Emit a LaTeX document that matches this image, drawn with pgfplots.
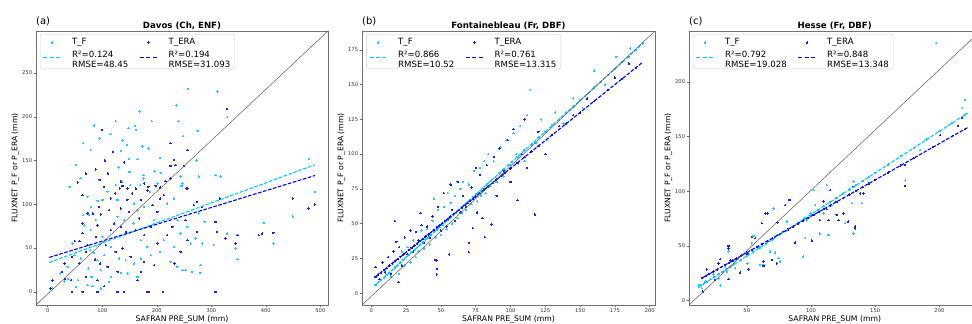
\documentclass[border=0pt]{standalone}
\usepackage{fontspec}
\setmainfont{DejaVu Sans}
\usepackage{pgfplots}
\pgfplotsset{compat=1.18}
\definecolor{cF}{RGB}{40,200,255}
\definecolor{cE}{RGB}{30,30,240}
\definecolor{lF}{RGB}{0,200,255}
\definecolor{lE}{RGB}{0,0,255}
\newcommand{\lgf}{\fontsize{8.6}{10.2}\selectfont}
\newcommand{\two}[2]{{\lgf\begin{tabular}{@{}l@{}}#1\\#2\end{tabular}}}
\tikzset{
  fitF/.style={draw=lF, line width=1.1pt, dash pattern=on 3.6pt off 1.6pt},
  fitE/.style={draw=lE, line width=1.1pt, dash pattern=on 3.6pt off 1.6pt},
  diag/.style={draw=black!65, line width=0.5pt},
}
\pgfplotsset{
  panel/.style={
    scale only axis, height=274pt,
    clip mode=individual,
    axis line style={black!55, line width=0.8pt},
    tick align=outside, tick pos=left,
    major tick length=2.5pt,
    tick style={black!60, line width=0.5pt},
    tick label style={font=\fontsize{5.2}{6}\selectfont, text=black!80, inner sep=1.2pt},
    /pgf/number format/assume math mode=true,
    xlabel={SAFRAN PRE\_SUM (mm)},
    ylabel={FLUXNET P\_F or P\_ERA (mm)},
    label style={font=\fontsize{7.7}{9.2}\selectfont, inner sep=1.5pt},
    every axis title shift=0pt,
    title style={font=\fontsize{8.6}{10}\selectfont\bfseries, inner sep=1.5pt},
    legend columns=2,
    legend cell align=left,
    legend style={anchor=north west, draw=black!18, rounded corners=2pt, fill=white,
      font=\lgf, inner sep=2.5pt,
      /tikz/every even column/.append style={column sep=9pt},
      /tikz/every odd column/.append style={column sep=9pt}},
  },
  ptsF/.style={only marks, mark=*, mark size=0.7pt, mark options={draw=cF, fill=cF, line width=0pt}},
  ptsE/.style={only marks, mark=*, mark size=0.7pt, mark options={draw=cE, fill=cE, line width=0pt}},
  lgF/.style={legend image code/.code={\draw[draw=lF, line width=1.4pt, dash pattern=on 4pt off 2.4pt] (0pt,0pt) -- (17pt,0pt);}},
  lgE/.style={legend image code/.code={\draw[draw=lE, line width=1.4pt, dash pattern=on 4pt off 2.4pt] (0pt,0pt) -- (17pt,0pt);}},
}
\begin{document}
\begin{tikzpicture}
%% ---------------- (a) Davos ----------------
\begin{axis}[panel, at={(36pt,19pt)}, anchor=south west, width=292pt,
  xmin=-21.5, xmax=514, ymin=-15, ymax=298,
  xtick={0,100,200,300,400,500}, ytick={0,50,100,150,200,250},
  title={Davos (Ch, ENF)},
  legend style={at={(rel axis cs:0.014,0.989)}}]
\addplot[ptsF] coordinates {
(257,232)(311,229)(236,213)(329,199.5)(168,206)(190.7,195)(239.5,195)(148,187)(159.6,189.6)(161.5,185)
(275,184)(137,173)(248.6,178)(174,166)(184.6,163.6)(134,161)(148.6,152)(164.5,151.5)(206,153)(273,150)
(150,137)(195.6,138)(207,136)(307.7,133.5)(316.8,131.6)(277,131.6)(175.5,133.5)(176,129.7)(243.7,131.6)(245.5,121)
(479,151.8)(160,284)(52,145)(79,162)(95,175)(60,130)(115,180)(40,120)(65,170)(125,195)(130,142)(85,190)(145,168)
(23,21)(37,15)(49,42)(73,108.7)(67,76)(74,89.6)(91.4,104)(109.7,114.4)(125,122)(136,126)(151,122)(169.4,122)
(187.7,114.4)(201,124)(219,101)(231.5,106.8)(246.8,124)(277,89.6)(287.6,80)(329,66.7)(304.7,53.4)(283.4,55.3)
(271,61)(262.4,55.3)(231.5,51.5)(225.5,34.3)(237.7,28.6)(246.8,24.8)(253,24.8)(265,22.9)(280,30.5)(280,21.7)
(344,49.6)(348,37.4)(396,79)(414,55.3)(449.6,86)(490,114.4)
(65,87.7)(76,87.7)(88.4,82)(78,47.7)(85,44.6)(91.4,36.2)(74.3,26.7)(80.4,17)(97.5,24.8)(115.8,17)(134,21.7)
(146,21)(164.5,17)(55,13.4)(51.8,5.7)(73,7.6)(82,6.5)(97.5,3.8)(112.7,11.4)(128,85.8)(140,82)(157,78)(170.6,59)
(182.8,51.5)(195,82)(115.8,51.5)(131,38)(143,36.2)(158.4,32.4)(170.6,38)(189,42)(206,45.8)(213,59)(237.7,82)
(243.7,66.7)(256,74.4)(100.5,63)(103.6,42)(79,70.6)(61,38)(36.6,28.6)(45.7,55.3)(79,97)(100.5,105)(128,105)
(158.4,101)(176.7,97)(164.5,93.4)(9,4)(30,12)
};
\addlegendentry{T\_F}
\addplot[ptsE] coordinates {
(329,209)(225,170)(256.5,162)(231.5,150.7)(234.5,144.6)(225.4,143.8)(249.7,143.8)(225,129.7)(134,126)(137,121)
(216,126.6)(198,121)(184.6,120)(206,119)(256,118)(70,135)(105,150)(88,140)(120,160)(55,125)(100,185)(110,135)
(95,128)(140,148)
(5,3.8)(9,13)(26,23)(32,15)(44.5,40)(50,58)(58,58)(64,67)(64,110.6)(83,89.6)(94.5,97)(97.5,88.5)(103.6,120)
(112.7,93.4)(123.7,112.5)(132,118)(146,118)(155,112.5)(161.5,118)(176.7,124)(182.8,116)(206,106.8)(213,110.6)
(254.7,118)(268,99)(274,103)(283,97)(315.7,106.8)(307.7,80)(310.8,68.6)(326,61)(274,68.6)(256,59)(243.7,45.8)
(232.8,32.4)(307.7,0)(344,55.3)(348,64.8)(387,64.8)(393,66.7)(414,67.5)(449.6,106.8)(478,95.4)(490,100)
(64,78)(91.4,76)(73,53.4)(70,45.8)(87,37)(96,32.4)(70,17)(91.4,13.4)(109.7,28.6)(128,22.9)(164.5,13.4)(170.6,22.9)
(42.7,13.4)(103.6,6.5)(44.5,0)(64,0)(91.4,0)(128,0)(140,0)(181.6,0)(186,0)(211.5,0)(115.8,70.6)(122,78)(134,74.4)
(143,68.6)(149,91.5)(161.5,70.6)(167.6,84)(176.7,64.8)(189,74.4)(201,91.5)(124.6,45.8)(137,49.6)(152,40)
(176.7,34.3)(195,30.5)(201,55.3)(219,64.8)(228.5,74.4)(253,82)(106.6,53.4)(88.4,63)(58,32.4)(30.5,32.4)
(73,89.6)(115.8,106.8)(146,105)(170.6,105)(192,99)(134,95.4)
};
\addlegendentry{T\_ERA}
\addplot[fitF, lgF] coordinates {(3,33.6)(490,145.2)};
\addlegendentry{\two{R²=0.124}{RMSE=48.45}}
\addplot[fitE, lgE] coordinates {(3,39.4)(490,132.9)};
\addlegendentry{\two{R²=0.194}{RMSE=31.093}}
\addplot[diag, forget plot] coordinates {(-21.5,-15)(514,298)};
\node[anchor=south west, inner sep=0pt, font=\fontsize{10}{12}\selectfont] at (rel axis cs:0,1) [yshift=4.5pt] {(a)};
\end{axis}
%% ---------------- (b) Fontainebleau ----------------
\begin{axis}[panel, at={(362pt,19pt)}, anchor=south west, width=293pt,
  xmin=-6.7, xmax=203.8, ymin=-8.5, ymax=188.5,
  xtick={0,25,50,75,100,125,150,175,200}, ytick={0,25,50,75,100,125,150,175},
  title={Fontainebleau (Fr, DBF)},
  legend style={at={(rel axis cs:0.014,0.989)}}]
\addplot[ptsF] coordinates {
(3,6)(5,8)(7,9.5)(9,11)(11,13)(13,15)(15,16.5)(17,18.5)(19,20)(21,22)(23,24)(25,26)(27,27.5)(29,29.5)(31,31)
(33,33)(35,35)(37,36.5)(39,38.5)(41,40)(43,42)(45,44)(47,45.5)(49,47.5)(51,49)(53,51)(55,53)(57,54.5)(59,56.5)
(61,58)(63,60)(65,62)(67,63.5)(69,65.5)(71,67)(73,69)(75,71)(77,72.5)(80,75.5)(83,78)(86,81)(89,83.5)(92,86)
(95,89)(98,92)(101,94.5)(105,98)(110,103)(115,107)(120,112)(125,116)(130,121)(135,125)(140,130)(145,134)
(150,139)(155,143)(160,148)(165,152)(170,157)(175,161)(180,166)(185,170)(190,175)(195,180)
(10,16)(14,12)(18,24)(20,14)(22,30)(24,20)(26,33)(28,22)(30,38)(32,26)(34,30)(36,45)(38,32)(40,46)(42,35)
(44,52)(45,68)(46,40)(48,60)(50,42)(52,62)(54,46)(55,72)(57,65)(58,50)(60,70)(62,54)(64,75)(65,58)(66,80)
(68,60)(70,78)(72,64)(74,88)(76,66)(78,90)(79,70)(81,95)(82,72)(84,100)(85,77)(88,95)(90,80)(93,105)(95,84)
(97,110)(100,92)(102,115)(104,100)(107,120)(110,95)(112,128)(114,146)(118,108)(122,125)(126,110)(132,130)
(138,122)(145,140)(152,133)(160,160)(168,150)(176,170)(186,176)
};
\addlegendentry{T\_F}
\addplot[ptsE] coordinates {
(3,11.7)(5,13.3)(7,15)(9,16.5)(11,18.1)(13,19.8)(15,21.4)(17,23)(19,24.6)(21,26.2)(23,27.8)(25,29.4)(27,31)
(29,32.6)(31,34.2)(33,35.8)(35,37.4)(37,39)(39,40.7)(41,42.3)(43,43.9)(45,45.5)(47,47.1)(49,48.7)(51,50.3)
(53,51.9)(55,53.5)(57,55.1)(59,56.7)(61,58.3)(63,60)(65,61.6)(67,63.2)(69,64.8)(71,66.4)(73,68)(75,69.6)(78,72)
(81,74.4)(84,76.8)(87,79.2)(90,81.7)(93,84.1)(96,86.5)(100,89.7)(105,93.7)(110,97.7)(115,101.8)(120,105.8)
(130,113.8)(140,121.9)(150,129.9)(160,138)(170,146)(180,154)(190,162)
(3,18.7)(6,10)(8,22)(10,15)(12,26)(14,14)(16,30)(17,51.7)(18,37)(19.4,7.9)(20,33)(22,20)(24,40)(26,28)(28,45)
(30,30)(32,44)(34,38)(35.4,57.6)(36,49)(38,36)(40,48)(42,40)(44,55)(46,24)(47,13.5)(47,17.5)(47,23.5)(48,62)
(50,45)(52,72)(54,48)(56,27.9)(57,78)(58,60)(60,52)(62,80)(64,58)(66,70)(68,62)(70,29.5)(70,36.2)(72,76)
(73,46.8)(75,90)(76,58)(78,85)(80,54)(81.6,40.3)(83,92)(86.4,49.5)(88,98)(90,70)(92,104)(95,88)(98,110)(100,80)
(102,118)(105,66.8)(108,100)(110,125)(112,90)(117.4,56.5)(120,116)(125,100)(135,120)(145,128)(155,140)
(175,155)(185,165)
};
\addlegendentry{T\_ERA}
\addplot[fitF, lgF] coordinates {(3,5.8)(195,179.4)};
\addlegendentry{\two{R²=0.866}{RMSE=10.52}}
\addplot[fitE, lgE] coordinates {(3,11.7)(195,166.1)};
\addlegendentry{\two{R²=0.761}{RMSE=13.315}}
\addplot[diag, forget plot] coordinates {(-6.7,-8.5)(203.8,188.5)};
\node[anchor=south west, inner sep=0pt, font=\fontsize{10}{12}\selectfont] at (rel axis cs:0,1) [yshift=4.5pt] {(b)};
\end{axis}
%% ---------------- (c) Hesse ----------------
\begin{axis}[panel, at={(689pt,19pt)}, anchor=south west, width=291.5pt,
  xmin=5, xmax=232, ymin=-4, ymax=246.5,
  xtick={50,100,150,200}, ytick={0,50,100,150,200},
  title={Hesse (Fr, DBF)},
  legend style={at={(rel axis cs:0.014,0.989)}}]
\addplot[ptsF] coordinates {
(13,12.7)(16,15)(19,17.2)(22,19.5)(25,21.8)(28,24.1)(31,26.4)(34,28.6)(37,30.9)(40,33.2)(45,37)(50,40.8)
(55,44.6)(60,48.4)(65,52.2)(70,56)(75,59.8)(80,63.6)(85,67.4)(90,71.2)(95,75)(100,78.8)(105,82.6)(110,86.4)
(115,90.2)(120,94)(125,97.8)(130,101.6)(135,105.4)(140,109.2)(145,113)(150,116.8)(160,124.4)(170,132)
(180,139.6)(190,147.2)(200,154.8)(210,162.4)(220,170)
(13.1,14.3)(15,11.3)(17.5,17.4)(24,24)(28,20.4)(29.2,14)(33.1,30.5)(34.4,26.5)(35.7,44.8)(40.9,29.6)(50.5,34.1)
(53.9,52.4)(55.2,59.1)(60.4,32.6)(63,32.6)(68.2,44.8)(70.8,84.4)(72,43.9)(74.7,38.7)(76,35.6)(81.2,72.2)(94,40.2)
(95.4,57)(96.7,73.7)(99.3,79.8)(101.9,101)(103.2,87.4)(107,61.5)(109.7,79.8)(112.3,105.7)(113.6,60)(116.2,87.4)
(126.6,70.7)(131.8,89)(133,61.5)(133,108.8)(139.6,89)(197.4,235.3)(220,183.5)(217.7,176)(185,137.7)(173.3,110)
};
\addlegendentry{T\_F}
\addplot[ptsE] coordinates {
(15,20.6)(18,22.6)(21,24.6)(24,26.6)(27,28.6)(30,30.6)(33,32.5)(36,34.5)(39,36.5)(42,38.5)(46,41.2)(50,43.9)
(54,46.5)(58,49.2)(62,51.8)(66,54.5)(70,57.2)(74,59.8)(78,62.5)(82,65.1)(86,67.8)(90,70.5)(94,73.1)(98,75.8)
(102,78.4)(106,81.1)(110,83.8)(115,87.1)(120,90.4)(125,93.7)(130,97.1)(135,100.4)(140,103.7)(145,107)
(150,110.4)(160,117)(170,123.7)(180,130.3)(195,140.3)(210,150.3)(220,156.9)
(15.7,8.2)(18.8,28.6)(25.3,18.9)(28,34)(29.2,37.8)(35.7,50)(35.7,47.8)(35.7,19.5)(37,37)(44.8,25.6)(50.5,42.7)
(51.3,28.6)(53.9,57.9)(56.5,57)(61.7,70.7)(63,35.6)(63,31.7)(64.3,79.8)(66,79.8)(69.5,37.2)(73.4,34.1)(73.9,71.6)
(79.9,87.4)(83.2,92)(87.6,53)(100.6,54.8)(107,73.7)(109.7,90.5)(112.3,83.5)(113.6,73.7)(115,101)(120,78.3)
(121.4,73.7)(125.3,79.8)(129,72.2)(134.4,67.6)(134.4,66)(138.3,98)(133,104)(140.8,98)(173.3,104.8)
(217.7,167)(214.6,159.7)(200.5,151.4)(173.3,124)
};
\addlegendentry{T\_ERA}
\addplot[fitF, lgF] coordinates {(13,12.7)(222,171.5)};
\addlegendentry{\two{R²=0.792}{RMSE=19.028}}
\addplot[fitE, lgE] coordinates {(15,20.6)(222,158.2)};
\addlegendentry{\two{R²=0.848}{RMSE=13.348}}
\addplot[diag, forget plot] coordinates {(5,-4)(232,246.5)};
\node[anchor=south west, inner sep=0pt, font=\fontsize{10}{12}\selectfont] at (rel axis cs:0,1) [yshift=4.5pt] {(c)};
\end{axis}
\pgfresetboundingbox
\path[use as bounding box] (0pt,0pt) rectangle (972pt,324pt);
\end{tikzpicture}
\end{document}
